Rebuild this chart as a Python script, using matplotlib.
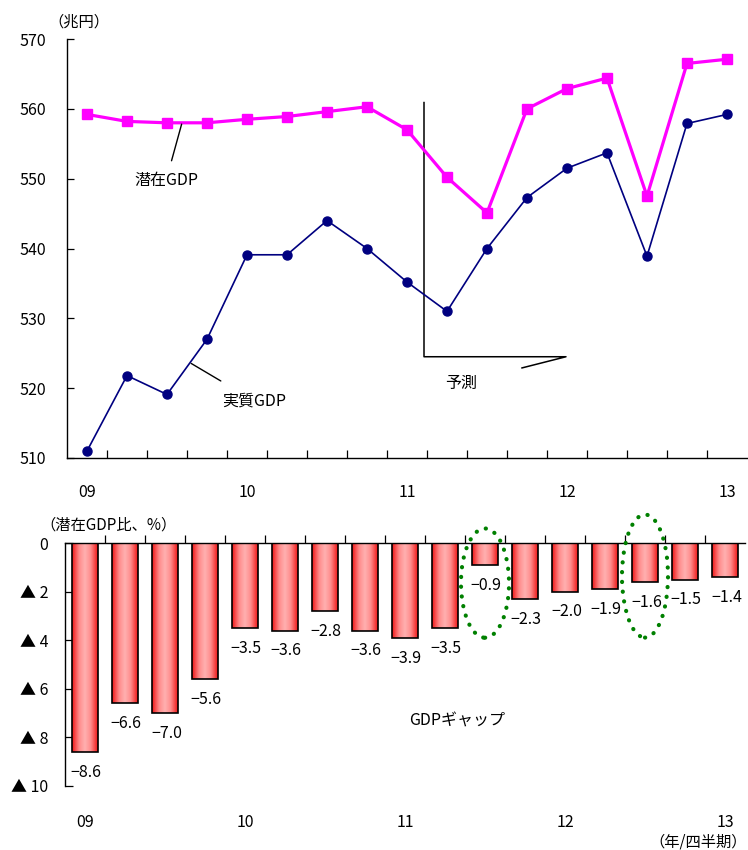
import numpy as np
import matplotlib
matplotlib.use("Agg")
import matplotlib.pyplot as plt
from matplotlib.patches import Ellipse
from matplotlib.colors import LinearSegmentedColormap

plt.rcParams['font.family'] = ['Noto Sans CJK JP', 'DejaVu Sans']
plt.rcParams['axes.unicode_minus'] = True

# quarterly data, 2009 Q1 .. 2013 Q1
year_labels = ["09", "10", "11", "12", "13"]
potential_gdp = [559.2, 558.2, 558.0, 558.0, 558.5, 558.9, 559.6, 560.3, 557.0,
                 550.2, 545.1, 560.0, 562.9, 564.4, 547.5, 566.5, 567.1]
real_gdp = [511.0, 521.8, 519.1, 527.0, 539.1, 539.1, 544.0, 540.0, 535.2,
            531.0, 540.0, 547.3, 551.5, 553.7, 538.9, 557.9, 559.2]
gdp_gap = [-8.6, -6.6, -7.0, -5.6, -3.5, -3.6, -2.8, -3.6, -3.9, -3.5,
           -0.9, -2.3, -2.0, -1.9, -1.6, -1.5, -1.4]
circled = [10, 14]

n = len(real_gdp)
x = np.arange(n)
year_pos = x[::4]

fig = plt.figure(figsize=(7.48, 8.5), dpi=100)
W, H = 748, 850

def box(l, t, r, b):
    return [l / W, 1 - b / H, (r - l) / W, (b - t) / H]

# ---- upper panel: levels ----
ax = fig.add_axes(box(67, 39, 747, 458))
ax.plot(x, potential_gdp, color='#FF00FF', lw=2.3, marker='s', ms=7.5,
        zorder=3, clip_on=False)
ax.plot(x, real_gdp, color='#000080', lw=1.2, marker='o', ms=6.5,
        zorder=3, clip_on=False)

ax.set_xlim(-0.5, n - 0.5)
ax.set_ylim(510, 570)
ax.set_yticks(np.arange(510, 571, 10))
ax.set_xticks(year_pos)
ax.set_xticklabels(year_labels)
ax.set_xticks(np.arange(0.5, n - 0.5, 1), minor=True)
ax.tick_params(axis='x', which='major', length=0, pad=19, labelsize=11.5)
ax.tick_params(axis='x', which='minor', direction='in', length=6, width=0.9)
ax.tick_params(axis='y', direction='in', length=5, width=0.9, pad=15,
               labelsize=11.5)
for s in ['top', 'right']:
    ax.spines[s].set_visible(False)
for s in ['left', 'bottom']:
    ax.spines[s].set_linewidth(1.0)

fig.text(48 / W, 1 - 22 / H, '（兆円）', fontsize=11, va='center', ha='left')

# series labels with leader lines
xp = 2.375
ax.annotate('潜在GDP', xy=(xp, np.interp(xp, x, potential_gdp)),
            xytext=(1.98, 549.8), ha='center', va='center', fontsize=11.5,
            arrowprops=dict(arrowstyle='-', color='black', lw=1,
                            shrinkA=6, shrinkB=1))
xr = 2.575
ax.annotate('実質GDP', xy=(xr, np.interp(xr, x, real_gdp)),
            xytext=(4.18, 518.2), ha='center', va='center', fontsize=11.5,
            arrowprops=dict(arrowstyle='-', color='black', lw=1,
                            shrinkA=12, shrinkB=1))

# forecast bracket
ax.plot([8.425, 8.425, 11.975, 10.875], [560.9, 524.5, 524.5, 522.9],
        color='black', lw=1.1)
ax.text(9.35, 520.7, '予測', ha='center', va='center', fontsize=11.5)

# ---- lower panel: GDP gap ----
ax2 = fig.add_axes(box(65, 543.3, 745, 786))
bw = 0.65
grad = np.linspace(0, 1, 64)
grad = 1 - np.abs(2 * grad - 1)
cmap = LinearSegmentedColormap.from_list(
    'bar', [(0.0, '#F01818'), (0.55, '#FF8C8C'), (1.0, '#FFB0B0')])
for xi, v in zip(x, gdp_gap):
    ax2.imshow(grad[np.newaxis, :], extent=(xi - bw / 2, xi + bw / 2, v, 0),
               aspect='auto', cmap=cmap, vmin=0, vmax=1, zorder=2)
ax2.bar(x, gdp_gap, width=bw, facecolor='none', edgecolor='black',
        lw=1.2, zorder=3)
for xi, v in zip(x, gdp_gap):
    ax2.annotate(f'{v:.1f}'.replace('-', '−'), xy=(xi, v),
                 xytext=(1, -14.5), textcoords='offset points',
                 ha='center', va='center', fontsize=11.5)

# dotted rings around the two highlighted quarters
ring_sizes = [(1.2, 4.5, -1.64), (1.15, 5.07, -1.35)]
for i, (ww, hh, cy) in zip(circled, ring_sizes):
    e = Ellipse((x[i], cy), ww, hh, fill=False, edgecolor='#008000', lw=3,
                linestyle=(0, (0.05, 2.3)), zorder=5)
    e.set_capstyle('round')
    e.set_clip_on(False)
    ax2.add_patch(e)

ax2.set_xlim(-0.5, n - 0.5)
ax2.set_ylim(-10, 0)
ax2.set_yticks(np.arange(-10, 1, 2))
ax2.set_yticklabels(['▲ 10', '▲ 8', '▲ 6', '▲ 4', '▲ 2', '0'])
ax2.set_xticks(year_pos)
ax2.set_xticklabels(year_labels)
ax2.set_xticks(np.arange(0.5, n - 0.5, 1), minor=True)
ax2.tick_params(axis='x', which='major', length=0, pad=20, labelsize=11.5)
ax2.tick_params(axis='x', which='minor', bottom=False, top=True,
                direction='out', length=6, width=0.9)
ax2.tick_params(axis='y', direction='in', length=6, width=0.9, pad=12,
                labelsize=11.5)
for s in ['bottom', 'right']:
    ax2.spines[s].set_visible(False)
for s in ['left', 'top']:
    ax2.spines[s].set_linewidth(1.0)

ax2.text(9.3, -7.33, 'GDPギャップ', ha='center', va='center', fontsize=11.5)
fig.text(40 / W, 1 - 525 / H, '（潜在GDP比、%）', fontsize=11, va='center',
         ha='left')
fig.text(747 / W, 1 - 842 / H, '（年/四半期）', fontsize=11, va='center',
         ha='right')

fig.savefig('out.png', dpi=100)
